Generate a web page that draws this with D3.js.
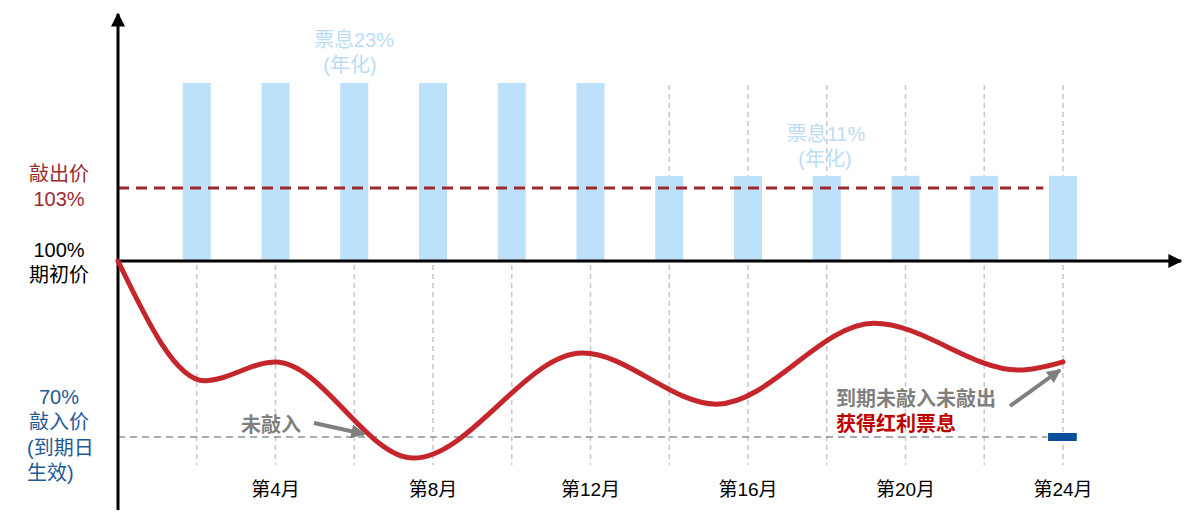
<!DOCTYPE html>
<html><head><meta charset="utf-8">
<script src="https://cdn.jsdelivr.net/npm/d3@7/dist/d3.min.js"></script>
<style>body{margin:0;background:#fff}svg{display:block;font-family:"Liberation Sans","Noto Sans CJK SC",sans-serif}</style>
</head><body><svg id="c" width="1194" height="512"></svg>
<script>
// data
const couponMonths = [2,4,6,8,10,12,14,16,18,20,22,24];
const couponRates  = [23,23,23,23,23,23,11,11,11,11,11,11];
const tickMonths = [4,8,12,16,20,24];
const tickLabels = ["第4月","第8月","第12月","第16月","第20月","第24月"];
const pathMonths = [0,2.2,4,7.5,11.8,15.2,19.2,22.9,24];
const pathPrices = [100,79.6,82.8,66.4,84.3,75.6,89.4,81.4,82.8];
const knockOut = 103, initial = 100, knockIn = 70;

const svg = d3.select("#c");
const x = d3.scaleLinear().domain([0,24]).range([118,1063]);
const y = d3.scaleLinear().domain([70,100,103]).range([437,261,188]);
const cy = d3.scaleLinear().domain([0,23]).range([261,83]);

const defs = svg.append("defs");
function marker(id,color,w,h){
  defs.append("marker").attr("id",id).attr("viewBox","0 0 10 10").attr("refX",9).attr("refY",5)
   .attr("markerWidth",w).attr("markerHeight",h).attr("markerUnits","userSpaceOnUse").attr("orient","auto")
   .append("path").attr("d","M0,0L10,5L0,10Z").attr("fill",color);
}
marker("ab","#000",16,14);
marker("ag","#7f7f7f",16,14);

// vertical dashed gridlines
svg.append("g").selectAll("line").data(couponMonths).join("line")
  .attr("x1",d=>x(d)).attr("x2",d=>x(d)).attr("y1",85).attr("y2",465)
  .attr("stroke","#c8c8c8").attr("stroke-width",1.5).attr("stroke-dasharray","5,4");

// bars
const bw = 28;
svg.append("g").selectAll("rect").data(couponMonths).join("rect")
  .attr("x",d=>x(d)-bw/2).attr("width",bw)
  .attr("y",(d,i)=>cy(couponRates[i])).attr("height",(d,i)=>cy(0)-cy(couponRates[i]))
  .attr("fill","#bde0fb");

// knock-out line
svg.append("line").attr("x1",x(0)).attr("x2",x(23.5)).attr("y1",y(knockOut)).attr("y2",y(knockOut))
  .attr("stroke","#9b2a2e").attr("stroke-width",3).attr("stroke-dasharray","11,7");
// knock-in line
svg.append("line").attr("x1",x(0)).attr("x2",x(23.6)).attr("y1",y(knockIn)).attr("y2",y(knockIn))
  .attr("stroke","#8a9099").attr("stroke-width",1.5).attr("stroke-dasharray","7,5");
svg.append("line").attr("x1",x(23.62)).attr("x2",x(24.35)).attr("y1",y(knockIn)).attr("y2",y(knockIn))
  .attr("stroke","#0b4f9c").attr("stroke-width",8);

// axes
svg.append("line").attr("x1",118).attr("x2",118).attr("y1",510).attr("y2",14)
  .attr("stroke","#000").attr("stroke-width",3).attr("marker-end","url(#ab)");
svg.append("line").attr("x1",116.5).attr("x2",1181).attr("y1",y(initial)).attr("y2",y(initial))
  .attr("stroke","#000").attr("stroke-width",3).attr("marker-end","url(#ab)");

// price path
svg.append("path").datum(pathMonths.map((m,i)=>[m,pathPrices[i]]))
  .attr("d",d3.line().x(d=>x(d[0])).y(d=>y(d[1])).curve(d3.curveMonotoneX))
  .attr("fill","none").attr("stroke","#c4262c").attr("stroke-width",5).attr("stroke-linecap","round");

// tick labels
svg.append("g").selectAll("text").data(tickMonths).join("text")
  .attr("x",d=>x(d)).attr("y",496).attr("text-anchor","middle")
  .attr("font-size",19).attr("fill","#000").text((d,i)=>tickLabels[i]);

// multi-line text block: lines = [[text, x, anchor, colour], ...]
function block(lines,y0,col,size,weight,dy){
  const tx = svg.append("text").attr("fill",col).attr("font-size",size||20)
    .attr("font-weight",weight||"normal");
  lines.forEach((l,i)=>{
    tx.append("tspan").attr("x",l[1]).attr("y",y0+i*(dy||25))
      .attr("text-anchor",l[2]||"middle").attr("fill",l[3]||col).text(l[0]);
  });
  return tx;
}
// left labels
block([["敲出价",59],["103%",59]],181,"#9b2a2e");
block([["100%",59],["期初价",59]],257,"#000");
block([["70%",59],["敲入价",59],["(到期日",27,"start"],["生效)",27,"start"]],404,"#1f5a96",20,"normal",25.3);

// coupon labels
block([["票息23%",354],["(年化)",350]],47,"#bcdcf5");
block([["票息11%",826],["(年化)",825]],141,"#bcdcf5");

// annotations
block([["未敲入",271]],432,"#7f7f7f",20,"bold");
svg.append("line").attr("x1",314).attr("y1",423).attr("x2",364).attr("y2",434)
  .attr("stroke","#7f7f7f").attr("stroke-width",4).attr("marker-end","url(#ag)");
block([["到期未敲入未敲出",836,"start"],["获得红利票息",836,"start","#c00000"]],406,"#7f7f7f",20,"bold");
svg.append("line").attr("x1",1010).attr("y1",406).attr("x2",1060).attr("y2",370)
  .attr("stroke","#7f7f7f").attr("stroke-width",4).attr("marker-end","url(#ag)");
</script></body></html>
